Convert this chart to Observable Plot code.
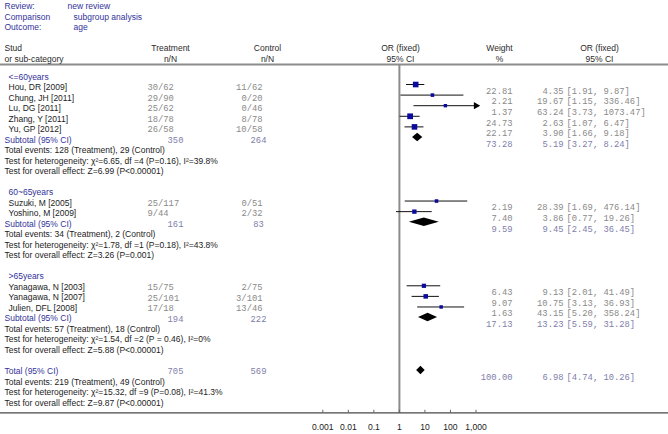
<!DOCTYPE html>
<html>
<head>
<meta charset="utf-8">
<script src="https://cdn.jsdelivr.net/npm/d3@7"></script>
<script src="https://cdn.jsdelivr.net/npm/@observablehq/plot@0.6"></script>
<style>
  html, body { margin: 0; padding: 0; background: #fff; }
  #wrap { position: relative; width: 668px; height: 434px; overflow: hidden; }
  #wrap svg { position: absolute; left: 0; top: 0; background: transparent; }
</style>
</head>
<body>
<div id="wrap"></div>
<script>
// ---------------- data ----------------
const infoLabels = ["Review:", "Comparison", "Outcome:"];
const infoValues = ["new review", "subgroup analysis", "age"];

const groups = ["<=60years", "60~65years", ">65years"];

const studies = ["Hou, DR [2009]", "Chung, JH [2011]", "Lu, DG [2011]", "Zhang, Y [2011]", "Yu, GP [2012]",
                 "Suzuki, M [2005]", "Yoshino, M [2009]",
                 "Yanagawa, N [2003]", "Yanagawa, N [2007]", "Julien, DFL [2008]"];
const studyGroup = [0, 0, 0, 0, 0, 1, 1, 2, 2, 2];
const trtEvents = [30, 29, 25, 18, 26, 25, 9, 15, 25, 17];
const trtN      = [62, 90, 62, 78, 58, 117, 44, 75, 101, 18];
const ctlEvents = [11, 0, 0, 8, 10, 0, 2, 2, 3, 13];
const ctlN      = [62, 20, 46, 78, 58, 51, 32, 75, 101, 46];
const weights   = [22.81, 2.21, 1.37, 24.73, 22.17, 2.19, 7.40, 6.43, 9.07, 1.63];
const orVals    = [4.35, 19.67, 63.24, 2.63, 3.90, 28.39, 3.86, 9.13, 10.75, 43.15];
const ciLow     = [1.91, 1.15, 3.73, 1.07, 1.66, 1.69, 0.77, 2.01, 3.13, 5.20];
const ciHigh    = [9.87, 336.46, 1073.47, 6.47, 9.18, 476.14, 19.26, 41.49, 36.93, 358.24];

const subTrtN      = [350, 161, 194];
const subCtlN      = [264, 83, 222];
const subWeight    = [73.28, 9.59, 17.13];
const subOR        = [5.19, 9.45, 13.23];
const subLow       = [3.27, 2.45, 5.59];
const subHigh      = [8.24, 36.45, 31.28];
const subEventsTrt = [128, 34, 57];
const subEventsCtl = [29, 2, 18];
const subChi       = ["6.65", "1.78", "1.54"];
const subDf        = [4, 1, 2];
const subHetP      = ["P=0.16", "P=0.18", "P = 0.46"];
const subI2        = ["39.8%", "43.8%", "0%"];
const subZ         = ["6.99", "3.26", "5.88"];
const subZP        = ["P<0.00001", "P=0.001", "P<0.00001"];

const totalTrtN = 705, totalCtlN = 569, totalWeight = 100.00;
const totalOR = 6.98, totalLow = 4.74, totalHigh = 10.26;
const totalEventsTrt = 219, totalEventsCtl = 49;
const totalChi = "15.32", totalDf = 9, totalHetP = "P=0.08", totalI2 = "41.3%";
const totalZ = "9.87", totalZP = "P<0.00001";

const tickValues = [0.001, 0.01, 0.1, 1, 10, 100, 1000];
const tickLabels = ["0.001", "0.01", "0.1", "1", "10", "100", "1,000"];

// ---------------- layout (rows) ----------------
const leftRows = [];
const plotRows = [];
let row = 7;
groups.forEach((g, gi) => {
  leftRows.push({row: row++, text: g, kind: "group"});
  studies.forEach((s, i) => {
    if (studyGroup[i] !== gi) return;
    leftRows.push({row, text: s, kind: "study", trt: `${trtEvents[i]}/${trtN[i]}`, ctl: `${ctlEvents[i]}/${ctlN[i]}`});
    plotRows.push({row, kind: "study", w: weights[i], or: orVals[i], lo: ciLow[i], hi: ciHigh[i]});
    row++;
  });
  leftRows.push({row, text: "Subtotal (95% CI)", kind: "sub", trtN: subTrtN[gi], ctlN: subCtlN[gi]});
  plotRows.push({row, kind: "sub", w: subWeight[gi], or: subOR[gi], lo: subLow[gi], hi: subHigh[gi]});
  row++;
  leftRows.push({row: row++, text: `Total events: ${subEventsTrt[gi]} (Treatment), ${subEventsCtl[gi]} (Control)`, kind: "note"});
  leftRows.push({row: row++, text: `Test for heterogeneity: χ²=${subChi[gi]}, df =${subDf[gi]} (${subHetP[gi]}), I²=${subI2[gi]}`, kind: "note"});
  leftRows.push({row: row++, text: `Test for overall effect: Z=${subZ[gi]} (${subZP[gi]})`, kind: "note"});
  row++;
});
leftRows.push({row, text: "Total (95% CI)", kind: "sub", trtN: totalTrtN, ctlN: totalCtlN});
plotRows.push({row, kind: "total", w: totalWeight, or: totalOR, lo: totalLow, hi: totalHigh});
row++;
leftRows.push({row: row++, text: `Total events: ${totalEventsTrt} (Treatment), ${totalEventsCtl} (Control)`, kind: "note"});
leftRows.push({row: row++, text: `Test for heterogeneity: χ²=${totalChi}, df =${totalDf} (${totalHetP}), I²=${totalI2}`, kind: "note"});
leftRows.push({row: row++, text: `Test for overall effect: Z=${totalZ} (${totalZP})`, kind: "note"});
const axisRow = row;

// ---------------- styles ----------------
const SANS = "Liberation Sans, Arial, sans-serif";
const MONO = "Liberation Mono, Courier New, monospace";
const BLUE = "#33339a";
const DARK = "#1c1c1c";
const GRAY = "#8a8a8a";
const BGRAY = "#8080aa";
const FS = 8.5, MFS = 8.8;
const xMax = tickValues[tickValues.length - 1];

// ---------------- left text plot ----------------
const headers = [
  {row: 4, x: 4, text: "Stud", anchor: "start"},
  {row: 5, x: 4, text: "or sub-category", anchor: "start"},
  {row: 4, x: 170, text: "Treatment", anchor: "middle"},
  {row: 5, x: 170, text: "n/N", anchor: "middle"},
  {row: 4, x: 267, text: "Control", anchor: "middle"},
  {row: 5, x: 267, text: "n/N", anchor: "middle"},
  {row: 4, x: 400, text: "OR (fixed)", anchor: "middle"},
  {row: 5, x: 400, text: "95% CI", anchor: "middle"},
  {row: 4, x: 499, text: "Weight", anchor: "middle"},
  {row: 5, x: 499, text: "%", anchor: "middle"},
  {row: 4, x: 599, text: "OR (fixed)", anchor: "middle"},
  {row: 5, x: 599, text: "95% CI", anchor: "middle"}
];
const infoRows = infoLabels.map((l, i) => ({row: i, label: l, value: infoValues[i], vx: i === 0 ? 67 : 73}));
const studyLeft = leftRows.filter(d => d.kind === "study");
const subLeft = leftRows.filter(d => d.kind === "sub");

const leftPlot = Plot.plot({
  width: 668, height: 434, margin: 0,
  style: {background: "transparent", fontFamily: SANS},
  x: {type: "identity", axis: null},
  y: {domain: [0, 40], range: [90 - 8 * 10.51, 90 + 32 * 10.51], axis: null},
  marks: [
    Plot.text(infoRows, {x: () => 4, y: "row", text: "label", textAnchor: "start", fill: BLUE, fontSize: FS}),
    Plot.text(infoRows, {x: "vx", y: "row", text: "value", textAnchor: "start", fill: BLUE, fontSize: FS}),
    Plot.text(headers.filter(d => d.anchor === "start"), {x: "x", y: "row", text: "text", textAnchor: "start", fill: "#2a2a2a", fontSize: FS}),
    Plot.text(headers.filter(d => d.anchor === "middle"), {x: "x", y: "row", text: "text", textAnchor: "middle", fill: "#2a2a2a", fontSize: FS}),
    Plot.text(leftRows, {
      x: d => (d.kind === "group" || d.kind === "study") ? 8 : 4,
      y: "row", dy: -3, text: "text", textAnchor: "start", fontSize: FS,
      fill: d => (d.kind === "group" || d.kind === "sub") ? BLUE : DARK
    }),
    Plot.text(studyLeft, {x: () => 147, y: "row", dy: -3, text: "trt", textAnchor: "start", fill: GRAY, fontFamily: MONO, fontSize: MFS}),
    Plot.text(studyLeft, {x: () => 262, y: "row", dy: -3, text: "ctl", textAnchor: "end", fill: GRAY, fontFamily: MONO, fontSize: MFS}),
    Plot.text(subLeft, {x: () => 175, y: "row", dy: -3, text: d => String(d.trtN), textAnchor: "middle", fill: BGRAY, fontFamily: MONO, fontSize: MFS}),
    Plot.text(subLeft, {x: () => 258, y: "row", dy: -3, text: d => String(d.ctlN), textAnchor: "middle", fill: BGRAY, fontFamily: MONO, fontSize: MFS})
  ]
});

// ---------------- forest plot ----------------
const H = 0.4; // diamond half height in rows
const diamonds = plotRows.filter(d => d.kind !== "study").flatMap((d, k) => [
  {k, x: d.lo, y1: d.row, y2: d.row},
  {k, x: d.or, y1: d.row - H, y2: d.row + H},
  {k, x: d.hi, y1: d.row, y2: d.row}
]);
const studyRows = plotRows.filter(d => d.kind === "study");
const tickData = tickValues.map((v, i) => ({v, label: tickLabels[i]}));
const studyNums = plotRows.filter(d => d.kind === "study");
const subNums = plotRows.filter(d => d.kind !== "study");

function numberMarks(data, fill) {
  return [
    Plot.text(data, {frameAnchor: "left", dx: 512, dy: 6.5, y: "row", text: d => d.w.toFixed(2), textAnchor: "end", fill, fontFamily: MONO, fontSize: MFS}),
    Plot.text(data, {frameAnchor: "left", dx: 563, dy: 6.5, y: "row", text: d => d.or.toFixed(2), textAnchor: "end", fill, fontFamily: MONO, fontSize: MFS}),
    Plot.text(data, {frameAnchor: "left", dx: 566, dy: 6.5, y: "row", text: d => `[${d.lo.toFixed(2)}, ${d.hi.toFixed(2)}]`, textAnchor: "start", fill, fontFamily: MONO, fontSize: MFS})
  ];
}

const forest = Plot.plot({
  width: 668, height: 434,
  marginLeft: 0, marginRight: 0, marginTop: 0, marginBottom: 22,
  style: {background: "transparent", fontFamily: SANS},
  x: {type: "log", domain: [tickValues[0], xMax], range: [322.3, 475.5], axis: null},
  y: {domain: [0, 40], range: [-0.74, 423.0], axis: null},
  r: {type: "sqrt", domain: [0, 25], range: [1.5, 3.25]},
  marks: [
    Plot.ruleY([6.1], {stroke: "#8c8c8c", strokeWidth: 2}),
    Plot.ruleX([1], {y1: 6.1, y2: axisRow, stroke: "#8c8c8c", strokeWidth: 2}),
    Plot.ruleY([axisRow], {stroke: "#1a1a1a", strokeWidth: 1}),
    Plot.ruleX(tickData, {x: "v", y1: axisRow - 0.25, y2: axisRow, stroke: "#666", strokeWidth: 1}),
    Plot.text(tickData, {x: "v", y: () => axisRow, dy: 14, text: "label", fill: "#222", fontSize: 8.6}),
    Plot.ruleY(studyRows, {x1: "lo", x2: d => Math.min(d.hi, xMax), y: "row", stroke: "#111", strokeWidth: 1}),
    Plot.dot(studyRows.filter(d => d.hi > xMax), {x: () => xMax, y: "row", symbol: "triangle", rotate: 90, r: 2.7, fill: "#000", stroke: "none"}),
    Plot.dot(studyRows, {x: "or", y: "row", r: "w", symbol: "square", fill: "#0a0a9c", stroke: "none"}),
    Plot.areaY(diamonds, {x: "x", y1: "y1", y2: "y2", z: "k", fill: "#000"}),
    ...numberMarks(studyNums, GRAY),
    ...numberMarks(subNums, BGRAY)
  ]
});

const wrap = document.getElementById("wrap");
wrap.appendChild(forest);
wrap.appendChild(leftPlot);
</script>
</body>
</html>
